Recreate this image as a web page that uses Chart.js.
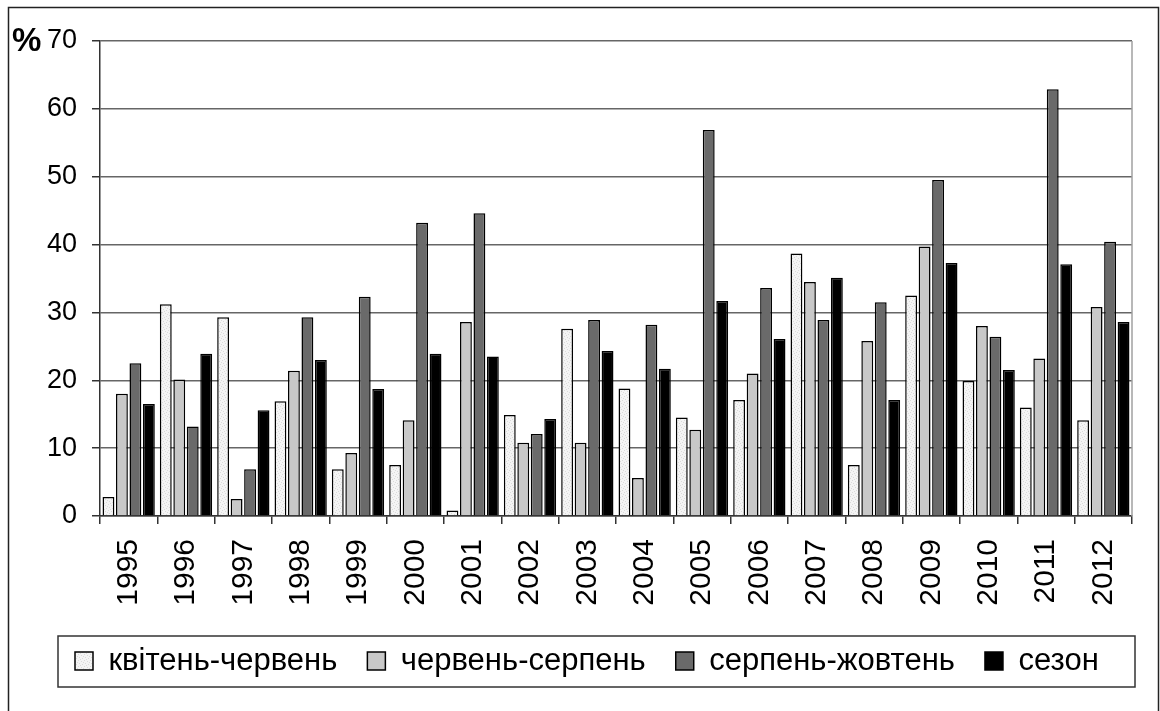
<!DOCTYPE html>
<html>
<head>
<meta charset="utf-8">
<script src="https://cdn.jsdelivr.net/npm/chart.js@4/dist/chart.umd.min.js"></script>
<style>
	body { margin: 0; background: #fff; }
	canvas { display: block; }
</style>
</head>
<body>
<canvas id="chart" width="1160" height="711"></canvas>
<script>
"use strict";

const years = ["1995", "1996", "1997", "1998", "1999", "2000", "2001", "2002", "2003",
	"2004", "2005", "2006", "2007", "2008", "2009", "2010", "2011", "2012"];
const seriesNames = ["квітень-червень", "червень-серпень", "серпень-жовтень", "сезон"];
const aprJun = [2.8, 31.2, 29.3, 16.9, 6.9, 7.5, 0.8, 14.9, 27.6, 18.8, 14.5, 17.1, 38.7, 7.5, 32.5, 19.9, 16.0, 14.1];
const junAug = [18.0, 20.1, 2.5, 21.4, 9.3, 14.1, 28.6, 10.8, 10.8, 5.6, 12.7, 21.0, 34.5, 25.8, 39.7, 28.0, 23.2, 30.8];
const augOct = [22.5, 13.2, 6.9, 29.3, 32.3, 43.2, 44.6, 12.1, 28.9, 28.2, 56.9, 33.6, 28.9, 31.5, 49.5, 26.4, 62.9, 40.4];
const season = [16.5, 23.9, 15.6, 23.0, 18.7, 23.9, 23.5, 14.3, 24.3, 21.7, 31.7, 26.1, 35.1, 17.1, 37.3, 21.5, 37.1, 28.6];
const yMin = 0;
const yMax = 70;
const yStep = 10;

const FONT = "'Liberation Sans', Arial, sans-serif";

// light speckled fill, like the old office texture
function makeSpeckle() {
	const c = document.createElement("canvas");
	c.width = 6;
	c.height = 6;
	const g = c.getContext("2d");
	g.fillStyle = "#f4f4f4";
	g.fillRect(0, 0, 6, 6);
	g.fillStyle = "#dadada";
	const dots = [[0, 0], [3, 1], [1, 3], [4, 4], [5, 2], [2, 5]];
	for (const [x, y] of dots) {
		g.fillRect(x, y, 1, 1);
	}
	return g.createPattern(c, "repeat");
}

const framePlugin = {
	id: "frame",
	beforeDraw(chart) {
		const ctx = chart.ctx;
		ctx.save();
		ctx.strokeStyle = "#222";
		ctx.lineWidth = 1.5;
		ctx.strokeRect(8.5, 7.5, 1150, 740);
		ctx.restore();
	},
	afterDraw(chart) {
		const ctx = chart.ctx;
		const area = chart.chartArea;
		const y = chart.scales.y;
		ctx.save();
		// right edge of the plot
		ctx.strokeStyle = "#a0a0a0";
		ctx.lineWidth = 1.5;
		ctx.beginPath();
		ctx.moveTo(area.right, area.top);
		ctx.lineTo(area.right, area.bottom);
		ctx.stroke();
		// unit mark
		ctx.fillStyle = "#000";
		ctx.font = "bold 33px " + FONT;
		ctx.textBaseline = "middle";
		ctx.textAlign = "left";
		ctx.fillText("%", 12, y.getPixelForValue(yMax) + 1);
		// legend box
		const boxes = chart.legend.legendHitBoxes;
		if (boxes && boxes.length) {
			const first = boxes[0];
			const left = first.left - 17;
			const top = first.top - 9.5;
			const bottom = first.top + first.height + 10.5;
			ctx.strokeStyle = "#333";
			ctx.lineWidth = 1.5;
			ctx.strokeRect(left, top, area.right + 3 - left, bottom - top);
		}
		ctx.restore();
	},
};

window.onload = () => {
	const speckle = makeSpeckle();
	const fills = [speckle, "#c8c8c8", "#6a6a6a", "#000000"];
	const values = [aprJun, junAug, augOct, season];

	const datasets = seriesNames.map((name, i) => ({
		label: name,
		data: values[i],
		backgroundColor: fills[i],
		borderColor: "#000",
		borderWidth: 1.5,
		categoryPercentage: 0.94,
		barPercentage: 0.88,
	}));

	new Chart(document.getElementById("chart"), {
		type: "bar",
		data: {
			labels: years,
			datasets: datasets,
		},
		options: {
			responsive: false,
			animation: false,
			layout: {
				padding: { left: 45, right: 28, top: 41, bottom: 24.5 },
			},
			plugins: {
				tooltip: { enabled: false },
				legend: {
					position: "bottom",
					align: "start",
					labels: {
						color: "#000",
						font: { family: FONT, size: 31 },
						boxWidth: 18,
						boxHeight: 18,
						padding: 30,
					},
				},
			},
			scales: {
				x: {
					offset: true,
					grid: {
						offset: true,
						drawOnChartArea: false,
						drawTicks: true,
						tickLength: 8,
						tickColor: "#333",
						lineWidth: 1.5,
					},
					border: { color: "#333", width: 1.5 },
					ticks: {
						color: "#000",
						font: { family: FONT, size: 30 },
						minRotation: 90,
						maxRotation: 90,
						padding: 15,
						autoSkip: false,
					},
					afterFit(scale) {
						scale.height = 99.5;
					},
				},
				y: {
					min: yMin,
					max: yMax,
					grid: {
						color: "#666666",
						lineWidth: 1.5,
						tickLength: 8,
						tickColor: "#333",
					},
					border: { color: "#333", width: 1.5 },
					ticks: {
						stepSize: yStep,
						color: "#000",
						font: { family: FONT, size: 27 },
						padding: 15,
					},
					afterFit(scale) {
						scale.width = 55;
					},
				},
			},
		},
		plugins: [framePlugin],
	});
};
</script>
</body>
</html>
